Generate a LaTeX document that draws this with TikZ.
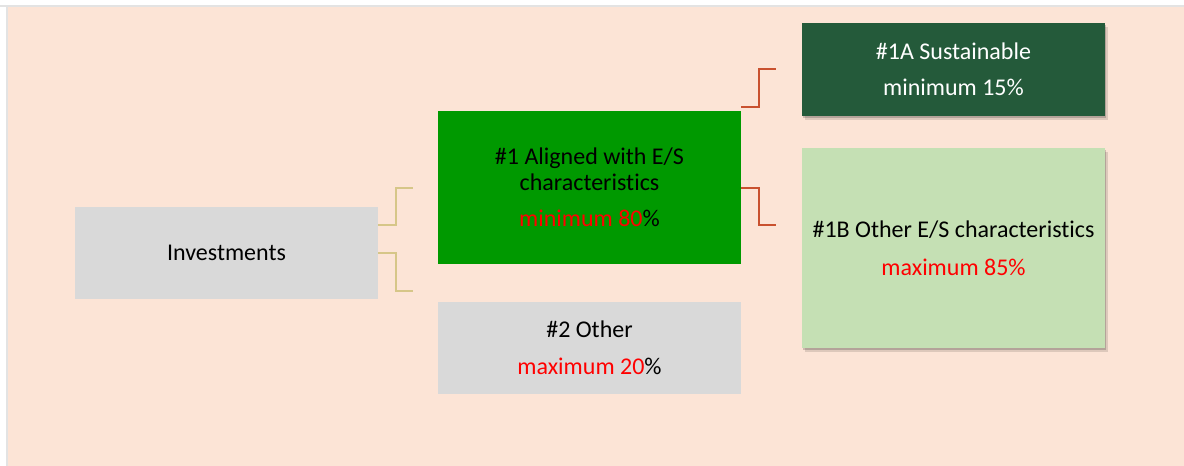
\documentclass[tikz,border=0pt]{standalone}
\usepackage{fontspec}
\setmainfont[Ligatures=NoCommon]{Carlito}
\usetikzlibrary{shadows}
\definecolor{bgpink}{HTML}{FCE4D6}
\definecolor{edgegray}{HTML}{E3E3E3}
\definecolor{boxgray}{HTML}{D9D9D9}
\definecolor{boxgreen}{HTML}{009900}
\definecolor{darkgreen}{HTML}{245A3A}
\definecolor{lightgreen}{HTML}{C5E0B4}
\definecolor{tanline}{HTML}{D6C688}
\definecolor{redline}{HTML}{C9512F}
\definecolor{txtred}{HTML}{FF0000}
\tikzset{
  box/.style={rectangle, inner sep=0pt, outer sep=0pt, align=center,
    font=\fontsize{24}{26}\selectfont},
  shadowed/.style={
    drop shadow={shadow xshift=1pt, shadow yshift=-1.5pt, opacity=0.18, fill=black},
    drop shadow={shadow xshift=2.5pt, shadow yshift=-3.5pt, opacity=0.12, fill=black}},
  tanconn/.style={draw=tanline, line width=1.6pt},
  redconn/.style={draw=redline, line width=1.6pt},
}
\begin{document}
\begin{tikzpicture}[x=1pt,y=-1pt]
\useasboundingbox (0,0) rectangle (1184,466);
\fill[white] (0,0) rectangle (1184,466);
\fill[edgegray] (0,5) rectangle (1184,7);
\fill[edgegray] (6,5) rectangle (8,466);
\fill[bgpink] (8,7) rectangle (1184,466);

\node[box, fill=boxgray, minimum width=303pt, minimum height=92pt] (inv) at (226.5,253) {Investments};
\node[box, fill=boxgreen, minimum width=303pt, minimum height=153pt] (al) at (589.5,187.5)
  {\#1 Aligned with E/S\\characteristics\\[10pt]{\color{txtred}minimum 80}\%};
\node[box, fill=boxgray, minimum width=303pt, minimum height=92pt] (oth) at (589.5,348)
  {\#2 Other\\[11pt]{\color{txtred}maximum 20}\%};
\node[box, shadowed, fill=darkgreen, text=white, minimum width=303pt, minimum height=93pt] (sus) at (953.5,69.5)
  {\#1A Sustainable\\[10pt]minimum 15\%};
\node[box, shadowed, fill=lightgreen, minimum width=303pt, minimum height=200pt] (oes) at (953.5,248)
  {\#1B Other E/S characteristics\\[12pt]{\color{txtred}maximum 85\%}};

\coordinate (t1) at (413,188);
\coordinate (t2) at (413,291);
\coordinate (r1) at (776,69);
\coordinate (r2) at (776,225);

\draw[tanconn] (inv.east |- 0,225) -- (396,225) |- (t1);
\draw[tanconn] (inv.east |- 0,253) -- (396,253) |- (t2);
\draw[redconn] (al.east |- 0,107) -- (759,107) |- (r1);
\draw[redconn] (al.east |- 0,188) -- (759,188) |- (r2);
\end{tikzpicture}
\end{document}
